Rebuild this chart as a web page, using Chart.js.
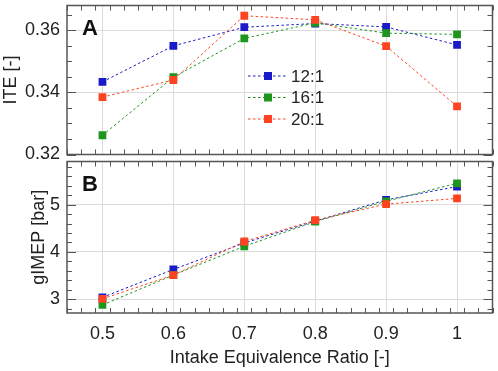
<!DOCTYPE html>
<html lang="en">
<head>
    <meta charset="UTF-8">
    <title>ITE and gIMEP vs Intake Equivalence Ratio</title>
    <script src="https://cdn.jsdelivr.net/npm/chart.js"></script>
    <style>
        body { margin: 0; background: #fff; }
        #wrap { position: relative; width: 498px; height: 371px; }
        #wrap div { position: absolute; left: 0; width: 498px; }
    </style>
</head>
<body>
    <div id="wrap">
        <div style="top:0;height:160px"><canvas id="chartA"></canvas></div>
        <div style="top:156px;height:215px"><canvas id="chartB"></canvas></div>
    </div>

    <script>
        // equivalence ratios on the x axis
        const phi = [0.5, 0.6, 0.7, 0.8, 0.9, 1.0];
        const ratios = ['12:1', '16:1', '20:1'];

        // ITE [-]
        const ite12 = [0.3434, 0.3550, 0.3610, 0.3622, 0.3611, 0.3553];
        const ite16 = [0.3262, 0.3449, 0.3574, 0.3624, 0.3591, 0.3587];
        const ite20 = [0.3385, 0.3440, 0.3647, 0.3634, 0.3549, 0.3355];

        // gIMEP [bar]
        const imep12 = [3.04, 3.63, 4.19, 4.65, 5.10, 5.38];
        const imep16 = [2.88, 3.51, 4.12, 4.64, 5.07, 5.45];
        const imep20 = [3.01, 3.51, 4.22, 4.67, 5.01, 5.13];

        const xTicks = [0.5, 0.6, 0.7, 0.8, 0.9, 1.0];
        const yTicksA = [0.32, 0.34, 0.36];
        const yTicksB = [3, 4, 5];

        const colores = ['#1a1ac8', '#1e961e', '#ff4220'];
        const fuente = "'Liberation Sans', Arial, sans-serif";
        const texto = '#222';

        function series(listas) {
            return listas.map((vals, i) => ({
                label: ratios[i],
                data: phi.map((x, j) => ({ x: x, y: vals[j] })),
                borderColor: colores[i],
                backgroundColor: colores[i],
                borderWidth: 1,
                borderDash: [2.5, 2.5],
                pointStyle: 'rect',
                pointRadius: 5.5,
                pointBorderWidth: 0,
                order: 2 - i
            }));
        }

        // no extra room for half tick labels
        function ajustar(s, ancho, alto) {
            if (ancho !== null) s.width = ancho;
            if (alto !== null) s.height = alto;
            s.paddingTop = 0; s.paddingBottom = 0;
            s.paddingLeft = 0; s.paddingRight = 0;
        }

        // frame, inward ticks, y title, panel letter and legend
        function marco(letra, minorX, minorY, tituloY, tituloX, conLeyenda) {
            return {
                id: 'marco' + letra,
                afterDraw(chart) {
                    const c = chart.ctx, a = chart.chartArea;
                    const sx = chart.scales.x, sy = chart.scales.y;
                    c.save();
                    c.strokeStyle = '#555';
                    c.lineWidth = 1;
                    c.beginPath();
                    for (let v = sx.min; v <= sx.max + 1e-9; v += minorX) {
                        const r = Math.round(v * 1000) / 1000;
                        const mayor = xTicks.some(t => Math.abs(t - r) < 1e-6);
                        const L = mayor ? 10 : 5;
                        const px = Math.round(sx.getPixelForValue(r)) + 0.5;
                        c.moveTo(px, a.bottom); c.lineTo(px, a.bottom - L);
                        c.moveTo(px, a.top); c.lineTo(px, a.top + L);
                    }
                    const ticksY = letra === 'A' ? yTicksA : yTicksB;
                    for (let v = Math.ceil(sy.min / minorY) * minorY; v <= sy.max + 1e-9; v += minorY) {
                        const r = Math.round(v * 10000) / 10000;
                        const mayor = ticksY.some(t => Math.abs(t - r) < 1e-6);
                        const L = mayor ? 9 : 5;
                        const py = Math.round(sy.getPixelForValue(r)) + 0.5;
                        c.moveTo(a.left, py); c.lineTo(a.left + L, py);
                        c.moveTo(a.right, py); c.lineTo(a.right - L, py);
                    }
                    c.stroke();
                    c.lineWidth = 1.5;
                    c.strokeRect(a.left, a.top, a.right - a.left, a.bottom - a.top);

                    // y axis title
                    c.save();
                    c.translate(tituloX, (a.top + a.bottom) / 2);
                    c.rotate(-Math.PI / 2);
                    c.font = '18px ' + fuente;
                    c.fillStyle = texto;
                    c.textAlign = 'center';
                    c.textBaseline = 'middle';
                    c.fillText(tituloY, 0, 0);
                    c.restore();

                    c.fillStyle = '#111';
                    c.font = 'bold 22px ' + fuente;
                    c.textBaseline = 'middle';
                    c.fillText(letra, a.left + 15, a.top + 23);

                    if (conLeyenda) {
                        c.font = '17px ' + fuente;
                        ratios.forEach((r, i) => {
                            const y = 76 + i * 21.5;
                            c.strokeStyle = colores[i];
                            c.lineWidth = 1;
                            c.setLineDash([2.5, 2.5]);
                            c.beginPath();
                            c.moveTo(248, y); c.lineTo(288, y);
                            c.stroke();
                            c.setLineDash([]);
                            c.fillStyle = colores[i];
                            c.fillRect(264, y - 4, 8, 8);
                            c.fillStyle = texto;
                            c.fillText(r, 291, y + 1);
                        });
                    }
                    c.restore();
                }
            };
        }

        const rejilla = { color: '#dcdcdc', lineWidth: 1, drawTicks: false };

        new Chart(document.getElementById('chartA'), {
            type: 'line',
            data: { datasets: series([ite12, ite16, ite20]) },
            options: {
                responsive: true,
                maintainAspectRatio: false,
                animation: false,
                layout: { padding: { top: 2, right: 2, bottom: 4, left: 0 } },
                plugins: { legend: { display: false }, tooltip: { enabled: false } },
                scales: {
                    x: {
                        type: 'linear', min: 0.45, max: 1.05,
                        afterBuildTicks: s => { s.ticks = xTicks.map(v => ({ value: v })); },
                        afterFit: s => ajustar(s, null, 0),
                        grid: rejilla,
                        border: { display: false },
                        ticks: { display: false }
                    },
                    y: {
                        min: 0.32, max: 0.368,
                        afterBuildTicks: s => { s.ticks = yTicksA.map(v => ({ value: v })); },
                        afterFit: s => ajustar(s, 67, null),
                        grid: rejilla,
                        border: { display: false },
                        ticks: {
                            padding: 7, color: texto,
                            font: { family: fuente, size: 18 },
                            callback: v => v.toFixed(2)
                        }
                    }
                }
            },
            plugins: [marco('A', 0.02, 0.005, 'ITE [-]', 11, true)]
        });

        new Chart(document.getElementById('chartB'), {
            type: 'line',
            data: { datasets: series([imep12, imep16, imep20]) },
            options: {
                responsive: true,
                maintainAspectRatio: false,
                animation: false,
                layout: { padding: { top: 2, right: 2, bottom: 0, left: 0 } },
                plugins: { legend: { display: false }, tooltip: { enabled: false } },
                scales: {
                    x: {
                        type: 'linear', min: 0.45, max: 1.05,
                        afterBuildTicks: s => { s.ticks = xTicks.map(v => ({ value: v })); },
                        afterFit: s => ajustar(s, null, 58),
                        grid: rejilla,
                        border: { display: false },
                        ticks: {
                            padding: 10, color: texto, maxRotation: 0,
                            font: { family: fuente, size: 18 },
                            callback: v => (v === 1 ? '1' : v.toFixed(1))
                        },
                        title: {
                            display: true, text: 'Intake Equivalence Ratio [-]', color: texto,
                            font: { family: fuente, size: 18 },
                            padding: { top: 0, bottom: 2 }
                        }
                    },
                    y: {
                        min: 2.71, max: 5.91,
                        afterBuildTicks: s => { s.ticks = yTicksB.map(v => ({ value: v })); },
                        afterFit: s => ajustar(s, 67, null),
                        grid: rejilla,
                        border: { display: false },
                        ticks: {
                            padding: 7, color: texto,
                            font: { family: fuente, size: 18 }
                        }
                    }
                }
            },
            plugins: [marco('B', 0.02, 0.2, 'gIMEP [bar]', 39, false)]
        });
    </script>
</body>
</html>
